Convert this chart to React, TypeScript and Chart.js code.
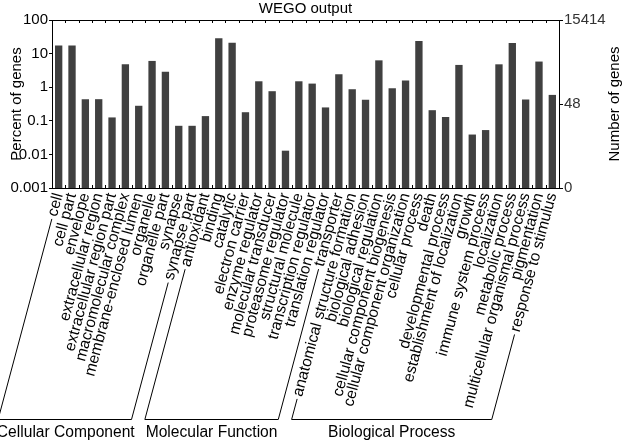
import React, { useEffect, useRef } from 'react';
import { Chart, registerables } from 'chart.js';

Chart.register(...registerables);

const categories = [
  'cell', 'cell part', 'envelope', 'extracellular region', 'extracellular region part',
  'macromolecular complex', 'membrane-enclosed lumen', 'organelle', 'organelle part',
  'synapse', 'synapse part',
  'antioxidant', 'binding', 'catalytic', 'electron carrier', 'enzyme regulator',
  'molecular transducer', 'proteasome regulator', 'structural molecule',
  'transcription regulator', 'translation regulator', 'transporter',
  'anatomical structure formation', 'biological adhesion', 'biological regulation',
  'cellular component biogenesis', 'cellular component organization', 'cellular process',
  'death', 'developmental process', 'establishment of localization', 'growth',
  'immune system process', 'localization', 'metabolic process',
  'multicellular organismal process', 'pigmentation', 'response to stimulus',
];

const percentValues = [
  17.3, 17.3, 0.44, 0.44, 0.126, 4.8, 0.28, 6.05, 2.9, 0.071, 0.071,
  0.138, 28.5, 21.2, 0.18, 1.5, 0.76, 0.0129, 1.5, 1.28, 0.25, 2.43,
  0.87, 0.42, 6.3, 0.93, 1.58, 23.8, 0.207, 0.13, 4.6, 0.039, 0.053, 4.8, 20.7, 0.43, 5.8, 0.59,
];

const groupNames = ['Cellular Component', 'Molecular Function', 'Biological Process'];
const groupSizes = [11, 11, 16];

const percentTicks = [0.001, 0.01, 0.1, 1, 10, 100];
const geneTickValues = [0, 48, 15414];
const geneTickLabels = ['0', '48', '15414'];
const totalGenes = 15414;

const titleText = 'WEGO output';
const leftTitle = 'Percent of genes';
const rightTitle = 'Number of genes';

const FONT = '"Liberation Sans", Arial, Helvetica, sans-serif';
const FS = 15;
const LFS = 15.6;
const LABEL_ROT = 75;

const percentMin = percentTicks[0];
const percentMax = percentTicks[percentTicks.length - 1];
const geneMin = (totalGenes * percentMin) / 100;
const geneMax = (totalGenes * percentMax) / 100;

const decorPlugin = {
  id: 'decor',
  afterDraw(chart: any) {
    const { ctx, chartArea } = chart;
    const { left, right, top, bottom } = chartArea;
    const xs = chart.scales.x;
    ctx.save();
    ctx.strokeStyle = '#000';
    ctx.lineWidth = 1;
    // top frame line
    ctx.beginPath();
    ctx.moveTo(left, Math.round(top) + 0.5);
    ctx.lineTo(right, Math.round(top) + 0.5);
    ctx.stroke();
    // inward tick marks at category boundaries
    const step = xs.getPixelForValue(1) - xs.getPixelForValue(0);
    ctx.beginPath();
    for (let i = 0; i <= categories.length; i++) {
      const px = Math.round(xs.getPixelForValue(i) - step / 2) + 0.5;
      ctx.moveTo(px, bottom);
      ctx.lineTo(px, bottom - 3);
      ctx.moveTo(px, top);
      ctx.lineTo(px, top + 3);
    }
    ctx.stroke();

    // titles
    ctx.fillStyle = '#000';
    ctx.font = `${FS}px ${FONT}`;
    ctx.textAlign = 'center';
    ctx.textBaseline = 'alphabetic';
    ctx.fillText(titleText, (left + right) / 2, 13);

    const midY = (top + bottom) / 2;
    ctx.save();
    ctx.translate(17, midY);
    ctx.rotate(-Math.PI / 2);
    ctx.textBaseline = 'middle';
    ctx.fillText(leftTitle, 0, 0);
    ctx.restore();

    ctx.save();
    ctx.translate(615, midY);
    ctx.rotate(-Math.PI / 2);
    ctx.textBaseline = 'middle';
    ctx.fillText(rightTitle, 0, 0);
    ctx.restore();

    // group brackets
    ctx.font = `${LFS}px ${FONT}`;
    const rot = (xs.labelRotation * Math.PI) / 180;
    const lineHeight = LFS * 1.2;
    const baseY = xs.top + xs.options.ticks.padding + (lineHeight / 2) * Math.cos(rot);
    const gap = 3;
    const lineY = 419.5;
    const startOf = (i: number) => {
      const w = ctx.measureText(categories[i]).width + gap;
      return [xs.getPixelForTick(i) - w * Math.cos(rot), baseY + w * Math.sin(rot)];
    };
    const bottomX = (p: number[]) => p[0] - (lineY - p[1]) / Math.tan(rot);
    let idx = 0;
    ctx.textBaseline = 'alphabetic';
    groupSizes.forEach((n, g) => {
      const a = startOf(idx);
      const b = startOf(idx + n - 1);
      const ax = bottomX(a);
      const bx = bottomX(b);
      ctx.beginPath();
      ctx.moveTo(a[0], a[1]);
      ctx.lineTo(ax, lineY);
      ctx.lineTo(bx, lineY);
      ctx.lineTo(b[0], b[1]);
      ctx.stroke();
      ctx.fillText(groupNames[g], (Math.max(ax, 0) + bx) / 2, 437);
      idx += n;
    });
    ctx.restore();
  },
};

export default function App() {
  const ref = useRef<HTMLCanvasElement | null>(null);
  useEffect(() => {
    if (!ref.current) return;
    const chart = new Chart(ref.current, {
      type: 'bar',
      data: {
        labels: categories,
        datasets: [
          {
            data: percentValues,
            backgroundColor: '#404040',
            borderWidth: 0,
            barPercentage: 0.55,
            categoryPercentage: 1.0,
            yAxisID: 'y',
          },
        ],
      },
      options: {
        responsive: false,
        animation: false,
        devicePixelRatio: 1,
        layout: { padding: { top: 20, left: 0, right: 0, bottom: 0 } },
        plugins: {
          legend: { display: false },
          tooltip: { enabled: false },
          title: { display: false },
        },
        scales: {
          x: {
            type: 'category',
            offset: true,
            grid: { display: false, drawTicks: false },
            border: { display: true, color: '#000', width: 1 },
            ticks: {
              autoSkip: false,
              minRotation: LABEL_ROT,
              maxRotation: LABEL_ROT,
              padding: 3,
              color: '#000',
              font: { family: FONT, size: LFS },
            },
            afterFit(scale: any) {
              scale.height = 441 - 188;
            },
          },
          y: {
            type: 'logarithmic',
            position: 'left',
            min: percentMin,
            max: percentMax,
            grid: { display: true, drawOnChartArea: false, drawTicks: true, tickLength: 3, color: '#000' },
            border: { display: true, color: '#000', width: 1 },
            ticks: {
              padding: 1,
              color: '#000',
              font: { family: FONT, size: FS },
              callback: (v: any) => String(v),
            },
            afterBuildTicks(scale: any) {
              scale.ticks = percentTicks.map((v) => ({ value: v }));
            },
            afterFit(scale: any) {
              scale.width = 52;
            },
          },
          y2: {
            type: 'logarithmic',
            position: 'right',
            min: geneMin,
            max: geneMax,
            grid: { display: true, drawOnChartArea: false, drawTicks: true, tickLength: 4, color: '#000' },
            border: { display: true, color: '#000', width: 1 },
            ticks: {
              padding: 1,
              color: '#333',
              font: { family: FONT, size: FS },
              callback: (v: any, i: number) => geneTickLabels[i],
            },
            afterBuildTicks(scale: any) {
              scale.ticks = geneTickValues.map((v) => ({ value: v === 0 ? geneMin : v }));
            },
            afterFit(scale: any) {
              scale.width = 66;
            },
          },
        },
      },
      plugins: [decorPlugin],
    } as any);
    return () => chart.destroy();
  }, []);
  return (
    <div style={{ position: 'absolute', left: 0, top: 0, width: 625, height: 441, background: '#fff' }}>
      <canvas ref={ref} width={625} height={441} style={{ display: 'block' }} />
    </div>
  );
}
